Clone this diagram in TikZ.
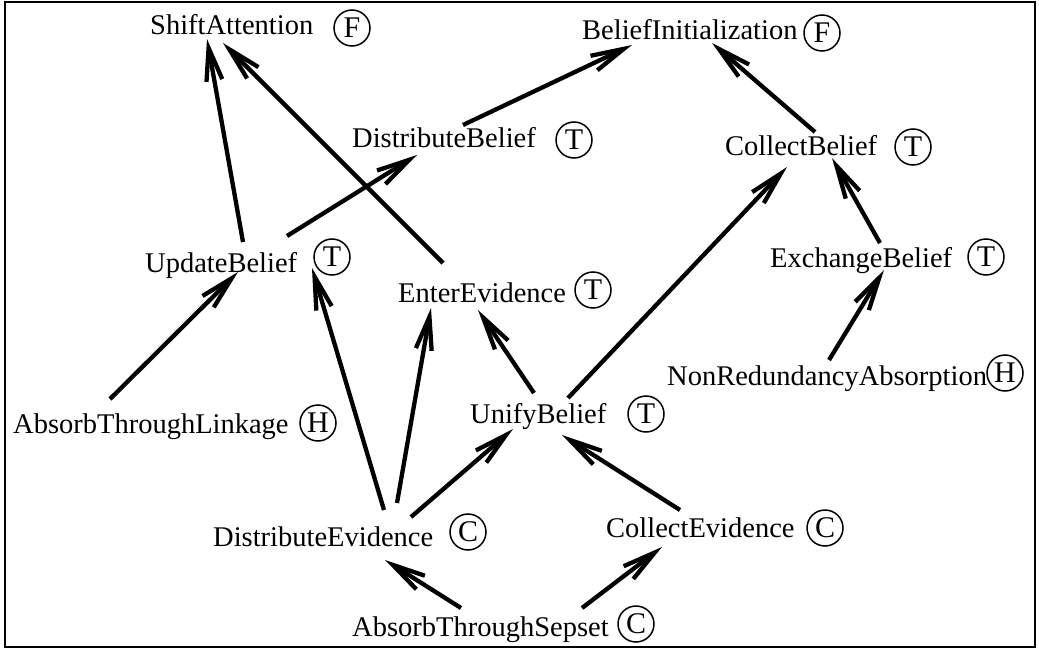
\documentclass[tikz,border=0pt]{standalone}
\usepackage{fontspec}
\setmainfont{Liberation Serif}
\usetikzlibrary{arrows.meta}
\begin{document}
\begin{tikzpicture}[x=1pt,y=-1pt,
  every node/.style={font=\fontsize{28.5}{34}\selectfont},
  lbl/.style={anchor=base west, inner sep=0pt},
  tag/.style={circle, draw, line width=1.5pt, minimum size=36pt, inner sep=0pt,
              font=\fontsize{30}{34}\selectfont},
  arr/.style={line width=4.3pt, -{Straight Barb[length=33pt,width=16pt]}}]
\useasboundingbox (0,0) rectangle (1039,650);
\draw[line width=1.6pt] (5,2) rectangle (1035,647);

% operation names with their kind markers
\node[lbl] (shift)   at (150,35)  {ShiftAttention};        \node[tag] (shift-k)   at (352,28)  {F};
\node[lbl] (binit)   at (582,40)  {BeliefInitialization};  \node[tag] (binit-k)   at (822,33)  {F};
\node[lbl] (dbel)    at (352,148) {DistributeBelief};      \node[tag] (dbel-k)    at (574,140) {T};
\node[lbl] (cbel)    at (725,156) {CollectBelief};         \node[tag] (cbel-k)    at (913,147) {T};
\node[lbl] (upd)     at (145,272) {UpdateBelief};          \node[tag] (upd-k)     at (332,257) {T};
\node[lbl] (enter)   at (398,302) {EnterEvidence};         \node[tag] (enter-k)   at (593,290) {T};
\node[lbl] (exch)    at (770,267) {ExchangeBelief};        \node[tag] (exch-k)    at (986,257) {T};
\node[lbl] (nonred)  at (667,385) {NonRedundancyAbsorption}; \node[tag] (nonred-k) at (1005,373) {H};
\node[lbl] (linkage) at (13,433)  {AbsorbThroughLinkage};  \node[tag] (linkage-k) at (318,423) {H};
\node[lbl] (unify)   at (470,423) {UnifyBelief};           \node[tag] (unify-k)   at (646,414) {T};
\node[lbl] (dev)     at (213,546) {DistributeEvidence};    \node[tag] (dev-k)     at (468,532) {C};
\node[lbl] (cev)     at (606,537) {CollectEvidence};       \node[tag] (cev-k)     at (825,528) {C};
\node[lbl] (sep)     at (352,636) {AbsorbThroughSepset};   \node[tag] (sep-k)     at (636,624) {C};

% dependencies
\draw[arr] ([shift={(98,-30)}]upd.base west)    -- ([shift={(57,4)}]shift.base west);
\draw[arr] ([shift={(45,-39)}]enter.base west)  -- ([shift={(73,8)}]shift.base west);
\draw[arr] ([shift={(142,-36)}]upd.base west)   -- ([shift={(65,7)}]dbel.base west);
\draw[arr] ([shift={(111,-23)}]dbel.base west)  -- ([shift={(50,5)}]binit.base west);
\draw[arr] ([shift={(90,-24)}]cbel.base west)   -- ([shift={(130,3)}]binit.base west);
\draw[arr] ([shift={(110,-24)}]exch.base west)  -- ([shift={(107,2)}]cbel.base west);
\draw[arr] ([shift={(162,-25)}]nonred.base west) -- ([shift={(114,3)}]exch.base west);
\draw[arr] ([shift={(97,-34)}]linkage.base west) -- ([shift={(93,0)}]upd.base west);
\draw[arr] ([shift={(171,-36)}]dev.base west)   -- ([shift={(-20,11)}]upd-k.center);
\draw[arr] ([shift={(184,-43)}]dev.base west)   -- ([shift={(33,6)}]enter.base west);
\draw[arr] ([shift={(198,-29)}]dev.base west)   -- ([shift={(43,6)}]unify.base west);
\draw[arr] ([shift={(64,-30)}]unify.base west)  -- ([shift={(80,8)}]enter.base west);
\draw[arr] ([shift={(98,-25)}]unify.base west)  -- ([shift={(62,11)}]cbel.base west);
\draw[arr] ([shift={(74,-27)}]cev.base west)    -- ([shift={(92,12)}]unify.base west);
\draw[arr] ([shift={(109,-28)}]sep.base west)   -- ([shift={(172,14)}]dev.base west);
\draw[arr] ([shift={(230,-28)}]sep.base west)   -- ([shift={(56,10)}]cev.base west);
\end{tikzpicture}
\end{document}
